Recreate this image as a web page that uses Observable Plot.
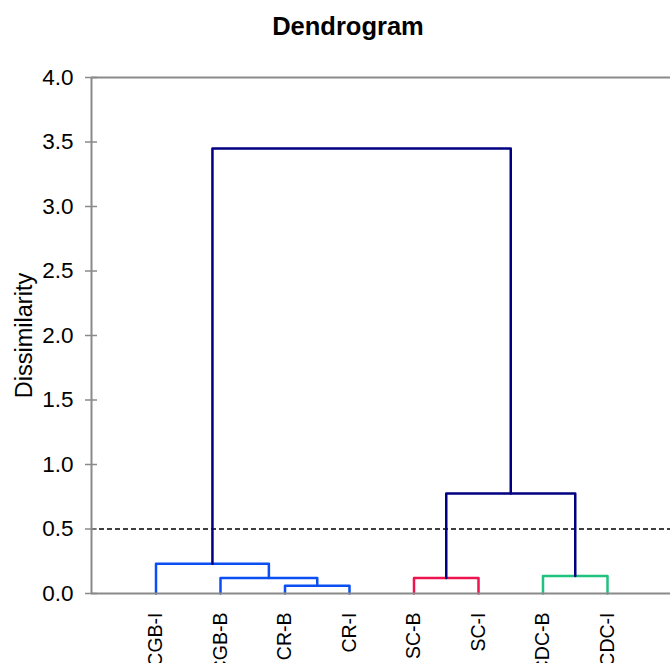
<!DOCTYPE html>
<html><head><meta charset="utf-8">
<script src="https://cdn.jsdelivr.net/npm/d3@7"></script>
<script src="https://cdn.jsdelivr.net/npm/@observablehq/plot@0.6"></script>
<style>
body{margin:0;background:#fff;font-family:"Liberation Sans",Arial,sans-serif;}
#title{height:50px;width:670px;box-sizing:border-box;padding-left:26px;text-align:center;font-weight:bold;font-size:25.5px;line-height:53px;color:#000;}
#chart svg{display:block;}
</style></head><body>
<div id="title">Dendrogram</div>
<div id="chart"></div>
<script>
// Leaves (left to right)
const leaves = ["CGB-I", "CGB-B", "CR-B", "CR-I", "SC-B", "SC-I", "CDC-B", "CDC-I"];
// Merges: node ids 0..7 are leaves, merge k creates node 8+k
const mergeLeft   = [2, 1, 0, 4, 6, 11, 10];
const mergeRight  = [3, 8, 9, 5, 7, 12, 13];
const mergeHeight = [0.06, 0.12, 0.23, 0.12, 0.135, 0.775, 3.45];
const mergeGroup  = ["c1", "c1", "c1", "c2", "c3", "top", "top"];
const groupNames  = ["c1", "c2", "c3", "top"];
const groupColors = ["#0b4ff2", "#ee1450", "#1fc27e", "#000080"];
const yTicks = [0, 0.5, 1, 1.5, 2, 2.5, 3, 3.5, 4];
const cutoff = [0.5];
const yLabel = "Dissimilarity";

// node positions
const nodeX = leaves.map((d, i) => i + 1);
const nodeH = leaves.map(() => 0);
const segs = [];
mergeLeft.forEach((l, k) => {
  const r = mergeRight[k], h = mergeHeight[k], g = mergeGroup[k];
  segs.push({id: k, g, x: nodeX[l], y: nodeH[l]});
  segs.push({id: k, g, x: nodeX[l], y: h});
  segs.push({id: k, g, x: nodeX[r], y: h});
  segs.push({id: k, g, x: nodeX[r], y: nodeH[r]});
  nodeX.push((nodeX[l] + nodeX[r]) / 2);
  nodeH.push(h);
});

const gray = "#8a8a8a";
const plot = Plot.plot({
  width: 670,
  height: 613,
  marginLeft: 91,
  marginRight: 0,
  marginTop: 27,
  marginBottom: 70,
  style: {fontFamily: "'Liberation Sans', Arial, sans-serif", background: "#fff"},
  x: {type: "linear", domain: [0, 9], range: [91, 671.5], axis: null},
  y: {domain: [0, 4], label: null},
  color: {type: "ordinal", domain: groupNames, range: groupColors},
  marks: [
    Plot.ruleY([4], {stroke: gray, strokeWidth: 2}),
    Plot.ruleY(cutoff, {stroke: "#000", strokeWidth: 1.5, strokeDasharray: "5,3"}),
    Plot.axisY({ticks: yTicks, tickSize: 12, dx: 6, tickFormat: () => "", stroke: gray, strokeWidth: 1.5, label: null}),
    Plot.axisY({ticks: yTicks, tickSize: 0, tickPadding: 18, tickFormat: d => d.toFixed(1), fontSize: 22.5, fill: "#000", label: null}),
    Plot.line(segs, {x: "x", y: "y", z: "id", stroke: "g", strokeWidth: 2.5, curve: "linear"}),
    Plot.ruleY([0], {stroke: gray, strokeWidth: 2}),
    Plot.ruleX([0], {stroke: gray, strokeWidth: 2}),
    Plot.text(leaves, {x: (d, i) => i + 1, y: 0, text: d => d, rotate: -90, textAnchor: "end", dy: 19, fontSize: 19.5, fill: "#000"}),
    Plot.text([yLabel], {frameAnchor: "left", text: d => d, rotate: -90, textAnchor: "middle", dx: -67, fontSize: 23.5, fill: "#000"})
  ]
});
document.getElementById("chart").appendChild(plot);
</script>
</body></html>
